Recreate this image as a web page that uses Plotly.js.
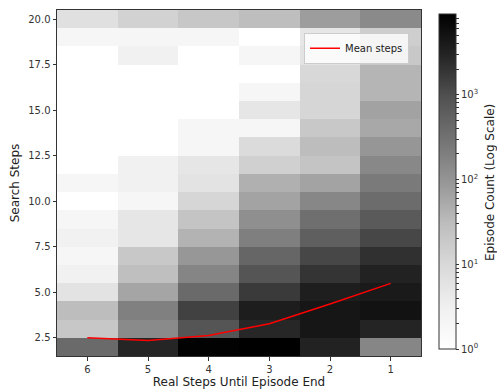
<!DOCTYPE html>
<html>
<head>
<meta charset="utf-8">
<script src="https://cdn.plot.ly/plotly-3.0.1.min.js"></script>
<style>html,body{margin:0;padding:0;background:#fff;}#chart{width:497px;height:392px;}</style>
</head>
<body>
<div id="chart"></div>
<script>
// Real steps until episode end (x, drawn 6 -> 1)
const realSteps = [6, 5, 4, 3, 2, 1];
// Search steps (y rows)
const searchSteps = [2, 3, 4, 5, 6, 7, 8, 9, 10, 11, 12, 13, 14, 15, 16, 17, 18, 19, 20];
// Episode counts per row (search steps 2..20), columns follow realSteps order
const counts_s2  = [402, 2858, 8375, 8913, 3133, 159];
const counts_s3  = [20, 140, 828, 2723, 4529, 2946];
const counts_s4  = [30, 195, 1400, 3700, 4529, 5200];
const counts_s5  = [6, 61, 402, 1683, 3540, 4009];
const counts_s6  = [3, 28, 164, 828, 1959, 3133];
const counts_s7  = [2, 19, 92, 461, 1213, 2168];
const counts_s8  = [3, 5, 41, 200, 586, 1213];
const counts_s9  = [2, 5, 23, 119, 338, 697];
const counts_s10 = [0, 2, 11, 65, 154, 375];
const counts_s11 = [2, 3, 6, 44, 65, 234];
const counts_s12 = [0, 3, 5, 14, 23, 149];
const counts_s13 = [0, 0, 2, 9, 30, 94];
const counts_s14 = [0, 0, 2, 2, 19, 56];
const counts_s15 = [0, 0, 0, 5, 11, 67];
const counts_s16 = [0, 0, 0, 2, 11, 38];
const counts_s17 = [0, 0, 0, 0, 10, 38];
const counts_s18 = [0, 3, 0, 2, 6, 19];
const counts_s19 = [2, 2, 2, 0, 5, 15];
const counts_s20 = [7, 13, 20, 29, 78, 139];
// Mean search steps per real-steps column
const meanSteps = [2.50, 2.35, 2.63, 3.27, 4.36, 5.49];
// Colorbar decades
const cbDecades = [0, 1, 2, 3];
const cbLabels = ['10<sup>0</sup>', '10<sup>1</sup>', '10<sup>2</sup>', '10<sup>3</sup>'];
const yTicks = [2.5, 5.0, 7.5, 10.0, 12.5, 15.0, 17.5, 20.0];

const countRows = [counts_s2, counts_s3, counts_s4, counts_s5, counts_s6, counts_s7, counts_s8,
  counts_s9, counts_s10, counts_s11, counts_s12, counts_s13, counts_s14, counts_s15, counts_s16,
  counts_s17, counts_s18, counts_s19, counts_s20];
const zLog = countRows.map(r => r.map(c => c > 0 ? Math.log10(c) : null));
const zMax = 3.95;

// matplotlib "Greys"
const greys = [
  [0, '#ffffff'], [0.125, '#f0f0f0'], [0.25, '#d9d9d9'], [0.375, '#bdbdbd'],
  [0.5, '#969696'], [0.625, '#737373'], [0.75, '#525252'], [0.875, '#252525'], [1, '#000000']
];

// colorbar ticks incl. minor positions
const cbTickVals = [], cbTickText = [];
for (const d of cbDecades) {
  for (let m = 1; m <= 9; m++) {
    const v = d + Math.log10(m);
    if (v > zMax) break;
    cbTickVals.push(v);
    cbTickText.push(m === 1 ? cbLabels[d] : '');
  }
}

const W = 497, H = 392, ML = 57, MR = 4, MT = 10, MB = 36;
const plotW = W - ML - MR;
const axisRight = 421, cbLeft = 439;

const heat = {
  type: 'heatmap',
  x: realSteps,
  y: searchSteps,
  z: zLog,
  zmin: 0, zmax: zMax,
  colorscale: greys,
  showlegend: false,
  hoverongaps: false,
  colorbar: {
    x: (cbLeft - ML) / plotW, xanchor: 'left', xpad: 0,
    y: 0.504, yanchor: 'middle', ypad: 0,
    len: 0.968, lenmode: 'fraction',
    thickness: 17,
    outlinewidth: 1, outlinecolor: '#333',
    tickmode: 'array', tickvals: cbTickVals, ticktext: cbTickText,
    ticks: 'outside', ticklen: 3, tickcolor: '#333',
    tickfont: {family: 'DejaVu Sans', size: 10, color: '#333'}
  }
};

const line = {
  type: 'scatter', mode: 'lines',
  x: realSteps, y: meanSteps,
  name: 'Mean steps',
  line: {color: 'red', width: 1.5},
  showlegend: true
};

const layout = {
  width: W, height: H,
  margin: {l: ML, r: MR, t: MT, b: MB},
  paper_bgcolor: '#fff', plot_bgcolor: '#fff',
  font: {family: 'DejaVu Sans', color: '#222'},
  xaxis: {
    domain: [0, (axisRight - ML) / plotW],
    range: [6.5, 0.5],
    tickmode: 'array', tickvals: realSteps, ticktext: realSteps.map(String),
    ticks: 'outside', ticklen: 3.5, tickcolor: '#333',
    showline: true, mirror: true, linecolor: '#333', linewidth: 1,
    showgrid: false, zeroline: false,
    tickfont: {size: 10, color: '#333'},
    title: {text: 'Real Steps Until Episode End', font: {size: 12, color: '#222'}, standoff: 4}
  },
  yaxis: {
    range: [1.5, 20.5],
    tickmode: 'array', tickvals: yTicks, ticktext: yTicks.map(v => v.toFixed(1)),
    ticks: 'outside', ticklen: 3.5, tickcolor: '#333',
    showline: true, mirror: true, linecolor: '#333', linewidth: 1,
    showgrid: false, zeroline: false,
    tickfont: {size: 10, color: '#333'},
    title: {text: 'Search Steps', font: {size: 12, color: '#222'}, standoff: 6}
  },
  legend: {
    x: (409 - ML) / plotW, xanchor: 'right', y: 0.934, yanchor: 'top',
    bgcolor: 'rgba(255,255,255,0.8)', bordercolor: '#ccc', borderwidth: 1,
    font: {size: 10, color: '#222'}
  },
  annotations: [{
    text: 'Episode Count (Log Scale)',
    xref: 'paper', yref: 'paper',
    x: (490 - ML) / plotW, y: 0.5, xanchor: 'center', yanchor: 'middle',
    textangle: -90, showarrow: false,
    font: {family: 'DejaVu Sans', size: 12, color: '#222'}
  }]
};

Plotly.newPlot('chart', [heat, line], layout, {displayModeBar: false, staticPlot: true});
</script>
</body>
</html>
